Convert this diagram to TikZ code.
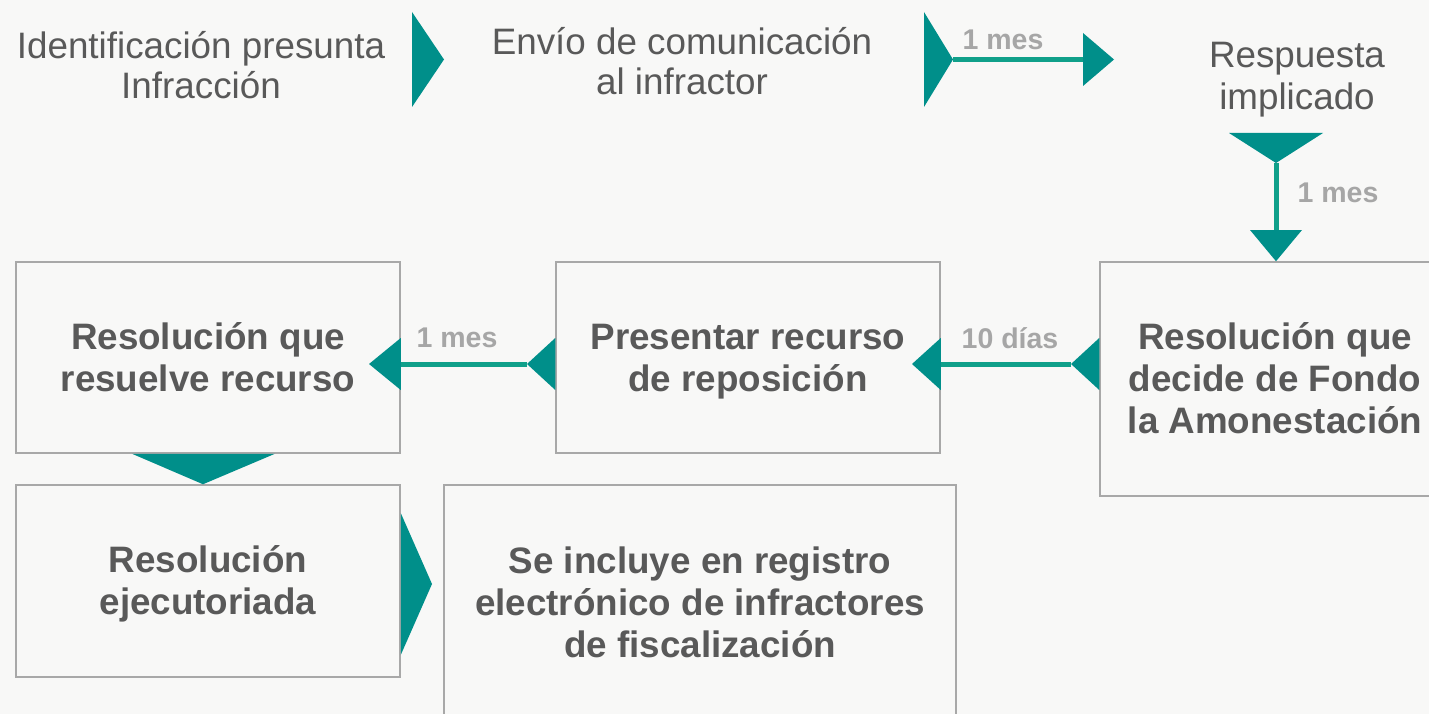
\documentclass[tikz,border=0pt]{standalone}
\usepackage{fontspec}
\setmainfont{Liberation Sans}
\definecolor{bg}{HTML}{F8F8F7}
\definecolor{teal1}{RGB}{0,143,138}
\definecolor{teal2}{RGB}{16,160,138}
\definecolor{txt}{HTML}{595959}
\definecolor{lbl}{HTML}{A6A6A6}
\definecolor{brd}{HTML}{A8A8A8}
\tikzset{
  x=1pt, y=-1pt,
  plain/.style={text=txt, align=center, inner sep=0pt, font=\fontsize{36.8}{40}\selectfont},
  plain2/.style={plain, font=\fontsize{36.8}{42}\selectfont},
  box/.style={draw=brd, line width=1.5pt, inner sep=0pt},
  boxtext/.style={text=txt, align=center, inner sep=0pt,
              font=\fontsize{36.8}{42}\selectfont\bfseries},
  lab/.style={text=lbl, inner sep=0pt, font=\fontsize{28.5}{30}\selectfont\bfseries},
  tri/.style={fill=teal1, draw=none},
  conn/.style={draw=teal2, line width=5pt}
}
\begin{document}
\begin{tikzpicture}
\fill[bg] (0,0) rectangle (1429,714);
\useasboundingbox (0,0) rectangle (1429,714);
\begin{scope}
\clip (0,0) rectangle (1429,714);
% top row texts
\node[plain] (id) at (201,65) {Identificación presunta\\Infracción};
\node[plain] (env) at (682,61) {Envío de comunicación\\al infractor};
\node[plain2] (resp) at (1297,80) {Respuesta\\implicado};
% boxes
\node[box, minimum width=384pt, minimum height=191pt] (A) at (208,357.5) {};
\node[box, minimum width=384pt, minimum height=191pt] (B) at (748,357.5) {};
\node[box, minimum width=350pt, minimum height=234pt] (C) at (1275,379) {};
\node[box, minimum width=384pt, minimum height=192pt] (D) at (208,581) {};
\node[box, minimum width=512pt, minimum height=235pt] (E) at (700,602.5) {};
\node[boxtext] (At) at (208,357.5) {Resolución que\\resuelve recurso};
\node[boxtext] (Bt) at (748,361.5) {Presentar recurso\\de reposición};
\node[boxtext] (Ct) at (1275,378) {Resolución que\\decide de Fondo\\la Amonestación};
\node[boxtext] (Dt) at (208,584) {Resolución\\ejecutoriada};
\node[boxtext] (Et) at (700,602) {Se incluye en registro\\electrónico de infractores\\de fiscalización};
% triangle id -> env
\fill[tri] (412,12) -- (444,59.5) -- (412,107) -- cycle;
% env -> resp (1 mes)
\coordinate (t1s) at (953,59.5);
\coordinate (t1e) at (1083,59.5);
\fill[tri] (924,12) -- (t1s) -- (924,107) -- cycle;
\draw[conn] (t1s) -- (t1e);
\fill[tri] (1083,33) -- (1114,59.5) -- (1083,86) -- cycle;
\node[lab] (l1) at (1003,40) {1 mes};
% resp -> C (1 mes)
\coordinate (t2s) at (1276,163);
\coordinate (t2e) at (1276,231);
\fill[tri] (1229,133) -- (1323,133) -- (t2s) -- cycle;
\draw[conn] (t2s) -- (t2e);
\fill[tri] (1250,230) -- (1302,230) -- (C.north -| 1276,0) -- cycle;
\node[lab] (l2) at (1338,193) {1 mes};
% C -> B (10 dias)
\coordinate (t3s) at (1071,364);
\coordinate (t3e) at (B.east |- 0,364);
\fill[tri] (C.west |- 0,338) -- (t3s) -- (C.west |- 0,390) -- cycle;
\draw[conn] (t3s) -- (t3e);
\fill[tri] (B.east |- 0,338) -- (912,364) -- (B.east |- 0,390) -- cycle;
\node[lab] (l3) at (1010,338) {10 días};
% B -> A (1 mes)
\coordinate (t4s) at (527,364);
\coordinate (t4e) at (A.east |- 0,364);
\fill[tri] (B.west |- 0,338) -- (t4s) -- (B.west |- 0,390) -- cycle;
\draw[conn] (t4s) -- (t4e);
\fill[tri] (A.east |- 0,338) -- (369,364) -- (A.east |- 0,390) -- cycle;
\node[lab] (l4) at (457,338) {1 mes};
% A -> D
\fill[tri] (A.south -| 132,0) -- (A.south -| 275,0) -- (D.north -| 203,0) -- cycle;
% D -> E
\fill[tri] (D.east |- 0,513) -- (432,584) -- (D.east |- 0,655) -- cycle;
\end{scope}
\end{tikzpicture}
\end{document}
